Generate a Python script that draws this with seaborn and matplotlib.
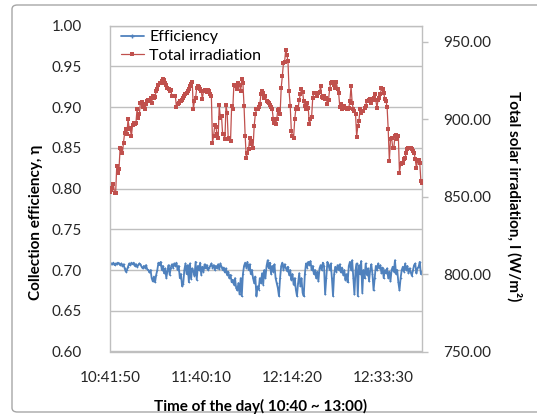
import numpy as np
import pandas as pd
import matplotlib
matplotlib.use("Agg")
import matplotlib.pyplot as plt
import seaborn as sns
from matplotlib.patches import FancyBboxPatch
from matplotlib.lines import Line2D

time_labels = ["10:41:50", "11:40:10", "12:14:20", "12:33:30"]
label_step = 81

irradiation = [
    853.0, 854.3, 855.8, 858.0, 852.6, 852.2, 869.8, 865.5, 868.1, 881.6,
    880.5, 878.4, 884.8, 891.3, 893.4, 890.2, 899.9, 894.5, 893.4, 889.1,
    896.0, 897.3, 896.6, 897.3, 906.3, 900.9, 903.1, 910.6, 911.0, 908.0,
    908.9, 906.3, 909.5, 911.7, 912.7, 911.7, 913.8, 910.6, 914.9, 913.8,
    914.5, 918.1, 919.2, 922.4, 923.1, 923.5, 924.6, 926.1, 925.0, 923.5,
    922.4, 920.3, 919.5, 918.1, 918.8, 914.9, 915.3, 915.0, 914.9, 908.0,
    909.5, 910.2, 911.7, 912.0, 912.7, 913.8, 914.9, 916.0, 917.0, 918.1,
    919.2, 921.3, 922.5, 923.9, 906.7, 911.7, 913.8, 920.3, 921.3, 920.8,
    919.2, 918.1, 913.2, 918.1, 918.8, 918.0, 917.5, 918.8, 918.1, 916.5,
    914.9, 884.8, 889.1, 896.0, 895.1, 890.2, 888.0, 908.9, 900.9, 902.0,
    890.2, 890.2, 887.0, 908.9, 904.2, 887.0, 888.0, 885.9, 908.5, 906.7,
    922.4, 922.4, 921.3, 919.2, 923.5, 922.4, 918.1, 926.1, 923.5, 908.5,
    889.1, 875.2, 878.4, 880.5, 888.0, 883.7, 885.9, 881.6, 895.6, 903.1,
    906.3, 906.7, 908.0, 909.5, 916.0, 918.5, 917.0, 913.8, 914.9, 911.7,
    911.0, 910.2, 908.9, 908.0, 906.3, 899.9, 897.7, 896.6, 899.9, 905.9,
    906.3, 903.1, 920.3, 927.8, 936.4, 936.8, 945.0, 941.7, 937.4, 918.1,
    908.5, 892.3, 889.1, 888.0, 899.9, 906.7, 908.0, 906.7, 912.7, 916.0,
    919.2, 917.5, 911.7, 908.5, 906.7, 910.6, 907.4, 896.6, 899.9, 901.6,
    913.8, 917.0, 916.6, 917.0, 915.3, 916.6, 917.5, 921.3, 914.5, 913.8,
    914.9, 913.2, 913.8, 909.5, 912.7, 919.2, 923.5, 923.9, 923.1, 922.4,
    920.3, 923.9, 919.2, 917.0, 908.0, 909.5, 906.3, 907.4, 908.5, 907.4,
    906.3, 906.3, 907.4, 911.7, 921.3, 910.6, 906.3, 905.2, 903.1, 888.7,
    895.6, 898.8, 906.3, 904.2, 905.2, 905.2, 907.4, 908.5, 911.7, 911.7,
    912.7, 913.2, 910.6, 912.7, 913.8, 916.0, 912.3, 907.4, 912.7, 913.8,
    916.0, 920.3, 919.6, 917.0, 913.2, 911.7, 908.0, 893.4, 873.0, 887.0,
    888.0, 881.6, 881.6, 889.1, 889.5, 887.0, 889.1, 865.5, 870.9, 871.5,
    871.9, 874.1, 875.2, 878.4, 880.5, 881.6, 881.6, 881.6, 880.5, 879.5,
    878.4, 874.1, 868.7, 873.0, 873.7, 871.9, 860.1, 859.0,
]

efficiency = [
    0.706, 0.708, 0.707, 0.709, 0.706, 0.708, 0.707, 0.709, 0.708, 0.706,
    0.708, 0.705, 0.707, 0.702, 0.698, 0.700, 0.704, 0.708, 0.706, 0.709,
    0.707, 0.709, 0.705, 0.707, 0.704, 0.706, 0.708, 0.707, 0.704, 0.702,
    0.705, 0.703, 0.706, 0.701, 0.700, 0.697, 0.700, 0.690, 0.686, 0.692,
    0.685, 0.694, 0.700, 0.709, 0.706, 0.710, 0.700, 0.705, 0.696, 0.702,
    0.690, 0.699, 0.706, 0.694, 0.703, 0.707, 0.703, 0.708, 0.705, 0.709,
    0.700, 0.705, 0.690, 0.695, 0.680, 0.683, 0.700, 0.708, 0.695, 0.706,
    0.685, 0.708, 0.689, 0.702, 0.699, 0.693, 0.710, 0.688, 0.705, 0.700,
    0.709, 0.694, 0.704, 0.698, 0.707, 0.702, 0.706, 0.700, 0.703, 0.705,
    0.708, 0.703, 0.706, 0.700, 0.705, 0.702, 0.707, 0.701, 0.708, 0.704,
    0.700, 0.703, 0.697, 0.702, 0.694, 0.698, 0.690, 0.694, 0.685, 0.688,
    0.682, 0.690, 0.678, 0.675, 0.684, 0.670, 0.690, 0.668, 0.695, 0.705,
    0.709, 0.703, 0.710, 0.700, 0.707, 0.695, 0.700, 0.690, 0.684, 0.692,
    0.668, 0.680, 0.676, 0.690, 0.684, 0.696, 0.682, 0.700, 0.690, 0.705,
    0.712, 0.702, 0.709, 0.695, 0.705, 0.698, 0.707, 0.690, 0.684, 0.678,
    0.668, 0.690, 0.705, 0.709, 0.700, 0.707, 0.703, 0.699, 0.704, 0.694,
    0.700, 0.688, 0.695, 0.682, 0.690, 0.676, 0.668, 0.684, 0.696, 0.680,
    0.690, 0.672, 0.668, 0.695, 0.708, 0.703, 0.710, 0.706, 0.711, 0.700,
    0.705, 0.695, 0.700, 0.690, 0.698, 0.686, 0.702, 0.706, 0.700, 0.709,
    0.705, 0.670, 0.690, 0.710, 0.706, 0.700, 0.708, 0.690, 0.668, 0.695,
    0.704, 0.698, 0.706, 0.700, 0.707, 0.697, 0.703, 0.694, 0.700, 0.688,
    0.695, 0.685, 0.705, 0.710, 0.700, 0.712, 0.690, 0.670, 0.700, 0.708,
    0.668, 0.706, 0.695, 0.711, 0.672, 0.700, 0.690, 0.708, 0.694, 0.702,
    0.686, 0.700, 0.707, 0.695, 0.675, 0.690, 0.705, 0.700, 0.708, 0.702,
    0.706, 0.696, 0.703, 0.690, 0.700, 0.696, 0.702, 0.690, 0.698, 0.686,
    0.700, 0.704, 0.698, 0.712, 0.695, 0.700, 0.685, 0.675, 0.690, 0.700,
    0.704, 0.698, 0.708, 0.700, 0.705, 0.696, 0.702, 0.697, 0.693, 0.700,
    0.706, 0.708, 0.696, 0.702, 0.704, 0.710, 0.695, 0.698,
]

sns.set_theme(style="white")
plt.rcParams['font.family'] = ['Lato', 'DejaVu Sans']

W, H = 537, 417
fig = plt.figure(figsize=(W / 100, H / 100), dpi=100)
fig.patch.set_facecolor("white")

# chart-area border
border = FancyBboxPatch((12 / W, 1 - 412 / H), 540 / W, 407 / H,
                        boxstyle="round,pad=0,rounding_size=0.01",
                        transform=fig.transFigure, fill=False,
                        edgecolor="#A6A6A6", lw=1.0, zorder=0)
fig.patches.append(border)

left, right, top, bottom = 110, 422, 25.5, 351.5
ax = fig.add_axes([left / W, 1 - bottom / H, (right - left) / W, (bottom - top) / H])
ax2 = ax.twinx()

n = len(irradiation)
df = pd.DataFrame({"idx": np.arange(n), "Efficiency": efficiency,
                   "Total irradiation": irradiation})

blue = "#4F81BD"
red = "#C0504D"
grid = "#BFBFBF"
txt = "#262626"

sns.lineplot(data=df, x="idx", y="Efficiency", ax=ax, color=blue, lw=1.3,
             marker="+", markersize=1.6, markeredgewidth=0.5,
             markeredgecolor=blue, legend=False)
sns.lineplot(data=df, x="idx", y="Total irradiation", ax=ax2, color=red, lw=0.9,
             marker="s", markersize=2.8, markeredgewidth=0,
             markerfacecolor=red, legend=False)

ax.set_xlim(0, n - 1)
ax.set_ylim(0.6, 1.0)
ax2.set_ylim(750, 960.5)

ax.set_yticks(np.arange(0.60, 1.001, 0.05))
ax.set_yticklabels([f"{v:.2f}" for v in np.arange(0.60, 1.001, 0.05)])
ax2.set_yticks(np.arange(750, 951, 50))
ax2.set_yticklabels([f"{v:.2f}" for v in np.arange(750, 951, 50)])
ax.set_xticks([i * label_step for i in range(len(time_labels))])
ax.set_xticklabels(time_labels)

ax.grid(axis="y", color=grid, lw=1.0)
ax.grid(axis="x", visible=False)
ax2.grid(False)
for s in ax.spines.values():
    s.set_color(grid)
    s.set_linewidth(1.0)
for s in ax2.spines.values():
    s.set_visible(False)

ax.tick_params(axis="y", length=0, pad=20, labelsize=11, labelcolor=txt)
ax.tick_params(axis="x", length=0, pad=14, labelsize=11, labelcolor=txt)
ax2.tick_params(axis="y", length=4, width=1, color=grid, pad=11, labelsize=11,
                labelcolor=txt, direction="out")

ax.set_xlabel("")
ax.set_ylabel("")
ax2.set_ylabel("")

fig.text(36 / W, 1 - 222 / H, "Collection efficiency, η", rotation=90,
         ha="center", va="center", fontsize=11, fontweight="bold", color="black")
fig.text(514 / W, 1 - 196 / H, "Total solar irradiation, I (W/m²)", rotation=270,
         ha="center", va="center", fontsize=11, fontweight="bold", color="black")
fig.text(261 / W, 1 - 406 / H, "Time of the day( 10:40 ~ 13:00)",
         ha="center", va="center", fontsize=11, fontweight="bold", color="black")

handles = [Line2D([], [], color=blue, lw=1.3, marker="+", markersize=3),
           Line2D([], [], color=red, lw=0.9, marker="s", markersize=3, markeredgewidth=0)]
leg = ax.legend(handles, ["Efficiency", "Total irradiation"], loc="upper left",
                bbox_to_anchor=(0.0, 1.02), frameon=False, fontsize=11.5,
                handlelength=1.4, handletextpad=0.35, labelspacing=0.25, borderaxespad=0.3)
for t in leg.get_texts():
    t.set_color("black")

fig.savefig("out.png", dpi=100)
